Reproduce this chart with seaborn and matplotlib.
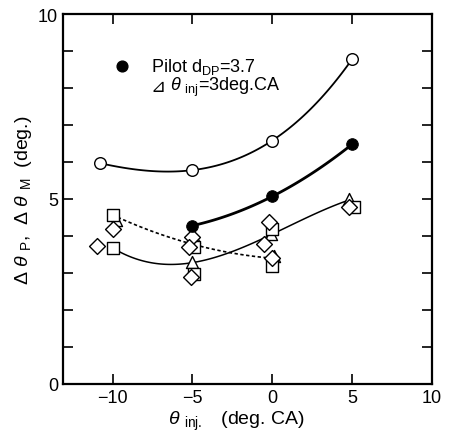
import numpy as np
import seaborn as sns
import matplotlib
matplotlib.use("Agg")
import matplotlib.pyplot as plt
from matplotlib.ticker import MultipleLocator

# measured points
open_circ_x = [-10.8, -5.0, 0.0, 5.0]
open_circ_y = [5.97, 5.78, 6.58, 8.78]

filled_x = [-5.0, 0.0, 5.0]
filled_y = [4.28, 5.07, 6.48]

square_x = [-10.0, -10.0, -4.9, -4.9, 0.0, 0.0, 5.1]
square_y = [4.57, 3.68, 3.71, 2.97, 4.19, 3.20, 4.79]

tri_x = [-9.8, -4.9, -5.0, -0.1, 0.1, 4.8]
tri_y = [4.42, 3.97, 3.29, 4.05, 3.47, 5.00]

diam_x = [-11.0, -10.0, -5.0, -5.2, -5.1, -0.2, -0.5, 0.0, 4.8]
diam_y = [3.74, 4.19, 3.98, 3.69, 2.88, 4.39, 3.78, 3.41, 4.79]

# fitted curves
solid_fit_x = [-10.0, -5.0, 0.0, 5.0]
solid_fit_y = [3.68, 3.28, 4.05, 5.00]
dot_fit_x = [-10.0, -5.0, 0.0]
dot_fit_y = [4.57, 3.78, 3.40]

sns.set_style("ticks")
plt.rcParams["font.family"] = ["Liberation Sans", "DejaVu Sans"]
plt.rcParams["mathtext.fontset"] = "custom"
plt.rcParams["mathtext.rm"] = "Liberation Sans"
plt.rcParams["mathtext.it"] = "Liberation Sans:italic"
plt.rcParams["text.color"] = "black"
plt.rcParams["axes.labelcolor"] = "black"
plt.rcParams["axes.edgecolor"] = "black"
plt.rcParams["xtick.color"] = "black"
plt.rcParams["ytick.color"] = "black"

fig = plt.figure(figsize=(4.49, 4.35), dpi=100)
ax = fig.add_axes([63 / 449, 1 - 385 / 435, 369 / 449, 370 / 435])

kw = dict(ci=None, scatter=False, truncate=True, ax=ax)
sns.regplot(x=open_circ_x, y=open_circ_y, order=3, line_kws=dict(color="black", lw=1.3), **kw)
sns.regplot(x=filled_x, y=filled_y, order=2, line_kws=dict(color="black", lw=2.0), **kw)
sns.regplot(x=solid_fit_x, y=solid_fit_y, order=3, line_kws=dict(color="black", lw=1.1), **kw)
sns.regplot(x=dot_fit_x, y=dot_fit_y, order=2, line_kws=dict(color="black", lw=1.2, ls=(0, (2, 1.5))), **kw)

mk = dict(facecolor="white", edgecolor="black", linewidth=1.0, ax=ax, zorder=3)
sns.scatterplot(x=tri_x, y=tri_y, marker="^", s=75, **mk)
sns.scatterplot(x=square_x, y=square_y, marker="s", s=75, **mk)
sns.scatterplot(x=diam_x, y=diam_y, marker="D", s=65, **mk)
sns.scatterplot(x=open_circ_x, y=open_circ_y, marker="o", s=70, **mk)
sns.scatterplot(x=filled_x, y=filled_y, marker="o", s=70, color="black", edgecolor="black", ax=ax, zorder=3)

# annotation
ax.scatter([-9.4], [8.6], s=60, color="black", zorder=3)
ax.text(-7.6, 8.6, r"Pilot d$_{\mathregular{DP}}$=3.7", fontsize=13, va="center", ha="left")
ax.text(-7.6, 8.05, "⊿", fontsize=13, va="center", ha="left", family=["DejaVu Sans"])
ax.text(-6.4, 8.05, r"$\theta$ $_{\mathregular{inj}}$=3deg.CA", fontsize=13, va="center", ha="left")

ax.set_xlim(-13.1, 10)
ax.set_ylim(0, 10)
ax.xaxis.set_major_locator(MultipleLocator(5))
ax.yaxis.set_major_locator(MultipleLocator(5))
ax.yaxis.set_minor_locator(MultipleLocator(1))
ax.tick_params(which="both", direction="in", top=True, right=True, width=1.2, labelsize=13)
ax.tick_params(which="major", length=7)
ax.tick_params(which="minor", length=7)
for s in ax.spines.values():
    s.set_linewidth(1.6)

ax.set_xlabel(r"$\theta$ $_{\mathregular{inj.}}$   (deg. CA)", fontsize=14, labelpad=2)
ax.xaxis.label.set_x(0.47)
ax.set_ylabel(r"$\Delta$ $\theta$ $_{\mathregular{P}}$,  $\Delta$ $\theta$ $_{\mathregular{M}}$  (deg.)",
              fontsize=14, labelpad=3)

plt.savefig("out.png", dpi=100)
